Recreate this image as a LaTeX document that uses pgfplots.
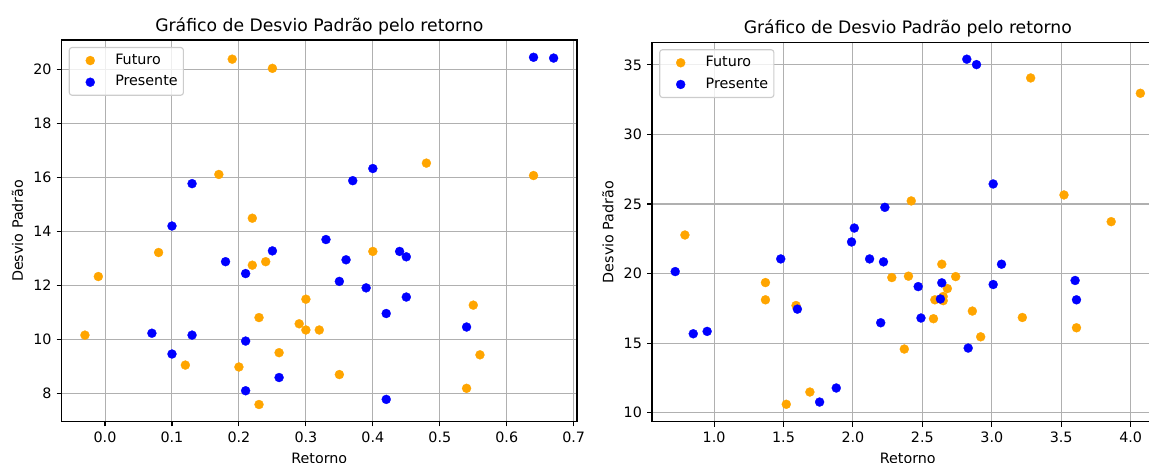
\documentclass[border=0pt]{standalone}
\usepackage{fontspec}
\setmainfont{DejaVu Sans}
\usepackage{pgfplots}
\pgfplotsset{compat=1.18}
\definecolor{mplorange}{RGB}{255,165,0}
\definecolor{mplblue}{RGB}{0,0,255}
\definecolor{gridgray}{RGB}{176,176,176}
\definecolor{leggray}{RGB}{204,204,204}

% Retorno x Desvio Padrao, left panel
\pgfplotstableread{
x y
0.19 20.38
0.25 20.04
0.17 16.11
0.22 14.49
0.48 16.53
0.64 16.07
0.08 13.22
-0.01 12.33
-0.03 10.16
0.40 13.26
0.22 12.75
0.24 12.88
0.30 11.49
0.23 10.81
0.29 10.58
0.30 10.35
0.32 10.35
0.26 9.51
0.20 8.98
0.12 9.05
0.35 8.70
0.23 7.59
0.55 11.27
0.56 9.43
0.54 8.19
}\futuroA
\pgfplotstableread{
x y
0.64 20.45
0.67 20.42
0.13 15.77
0.37 15.88
0.40 16.33
0.10 14.20
0.33 13.70
0.25 13.28
0.18 12.88
0.21 12.44
0.36 12.95
0.35 12.15
0.39 11.91
0.44 13.26
0.45 13.06
0.45 11.57
0.42 10.96
0.54 10.46
0.07 10.23
0.13 10.16
0.21 9.94
0.10 9.46
0.26 8.59
0.21 8.10
0.42 7.78
}\presenteA
% right panel
\pgfplotstableread{
x y
0.79 22.77
2.42 25.22
3.28 34.06
3.52 25.65
3.86 23.73
4.07 32.96
1.37 19.35
1.37 18.11
1.59 17.70
1.52 10.60
1.69 11.48
2.28 19.71
2.40 19.81
2.37 14.57
2.64 20.67
2.74 19.78
2.68 18.92
2.59 18.11
2.65 18.05
2.65 18.35
2.58 16.75
2.86 17.30
2.92 15.45
3.22 16.84
3.61 16.10
}\futuroB
\pgfplotstableread{
x y
2.82 35.41
2.89 35.02
3.01 26.44
2.23 24.76
2.01 23.27
1.99 22.27
0.72 20.14
1.48 21.05
2.12 21.05
2.22 20.84
2.47 19.06
2.64 19.33
2.63 18.17
3.07 20.67
3.01 19.21
3.60 19.50
3.61 18.11
1.60 17.44
2.20 16.46
2.49 16.80
0.85 15.67
0.95 15.84
2.83 14.64
1.76 10.76
1.88 11.77
}\presenteB

\pgfplotsset{
  mplstyle/.style={
    scale only axis,
    anchor=south west,
    axis line style={black, line width=0.8pt},
    tick pos=left,
    tick align=outside,
    major tick length=3.5pt,
    major tick style={black, line width=0.8pt},
    grid=major,
    grid style={gridgray, line width=0.75pt},
    /pgf/number format/assume math mode=true,
    tick label style={font=\fontsize{10.3}{12}\selectfont, inner sep=0pt},
    xticklabel style={yshift=-3.5pt},
    yticklabel style={xshift=-3.5pt},
    title style={at={(axis description cs:0.5,1)}, anchor=base,
      inner sep=0pt, font=\fontsize{12.4}{14}\selectfont},
    every axis x label/.style={at={(axis description cs:0.5,0)}, anchor=north,
      yshift=-22.5pt, inner sep=0pt, font=\fontsize{10.3}{12}\selectfont},
    title={Gráfico de Desvio Padrão pelo retorno},
    xlabel={Retorno},
    ylabel={Desvio Padrão},
    legend cell align=left,
    legend style={at={(axis description cs:0,1)}, anchor=north west,
      xshift=5.2pt, yshift=-5pt, draw=leggray, line width=0.8pt,
      rounded corners=2pt, fill=white, fill opacity=0.8, text opacity=1,
      font=\fontsize{10.3}{12}\selectfont, inner xsep=4.1pt, inner ysep=4.2pt,
      row sep=5.2pt,
      nodes={inner sep=0pt, text height=7.8pt, text depth=2.6pt},
      /tikz/every odd column/.append style={column sep=8.4pt}},
    legend image code/.code={
      \path[draw=none, fill=none] (0pt,-3pt) rectangle (20.6pt,3pt);
      \draw[#1, only marks, fill opacity=1, draw opacity=1]
        plot coordinates {(11pt,0pt)};},
  },
  futuro/.style={only marks, mark=*, mark size=3.25pt,
    mark options={fill=mplorange, draw=mplorange, line width=0.2pt}},
  presente/.style={only marks, mark=*, mark size=3.25pt,
    mark options={fill=mplblue, draw=mplblue, line width=0.2pt}},
}

\begin{document}
\begin{tikzpicture}
\begin{axis}[mplstyle,
  at={(44.28pt,-303.5pt)}, width=371.2pt, height=274.7pt,
  xmin=-0.065, xmax=0.705, ymin=6.96, ymax=21.09,
  xtick={0,0.1,0.2,0.3,0.4,0.5,0.6,0.7},
  ytick={8,10,12,14,16,18,20},
  xticklabel style={/pgf/number format/.cd, fixed, fixed zerofill, precision=1},
  every axis y label/.style={at={(axis description cs:-0.0741,0.5)}, rotate=90,
    anchor=south, inner sep=0pt, font=\fontsize{10.3}{12}\selectfont},
]
\addplot[futuro] table[x=x, y=y] {\futuroA};
\addlegendentry{Futuro}
\addplot[presente] table[x=x, y=y] {\presenteA};
\addlegendentry{Presente}
\end{axis}

\begin{axis}[mplstyle,
  at={(469.4pt,-303.8pt)}, width=368.4pt, height=273.4pt,
  xmin=0.5525, xmax=4.2375, ymin=9.33, ymax=36.63,
  xtick={1,1.5,2,2.5,3,3.5,4},
  ytick={10,15,20,25,30,35},
  xticklabel style={/pgf/number format/.cd, fixed, fixed zerofill, precision=1},
  every axis y label/.style={at={(axis description cs:-0.0746,0.5)}, rotate=90,
    anchor=south, inner sep=0pt, font=\fontsize{10.3}{12}\selectfont},
]
\addplot[futuro] table[x=x, y=y] {\futuroB};
\addlegendentry{Futuro}
\addplot[presente] table[x=x, y=y] {\presenteB};
\addlegendentry{Presente}
\end{axis}

\pgfresetboundingbox
\path[use as bounding box] (0pt,0pt) rectangle (827.28pt,-333.36pt);
\end{tikzpicture}
\end{document}
